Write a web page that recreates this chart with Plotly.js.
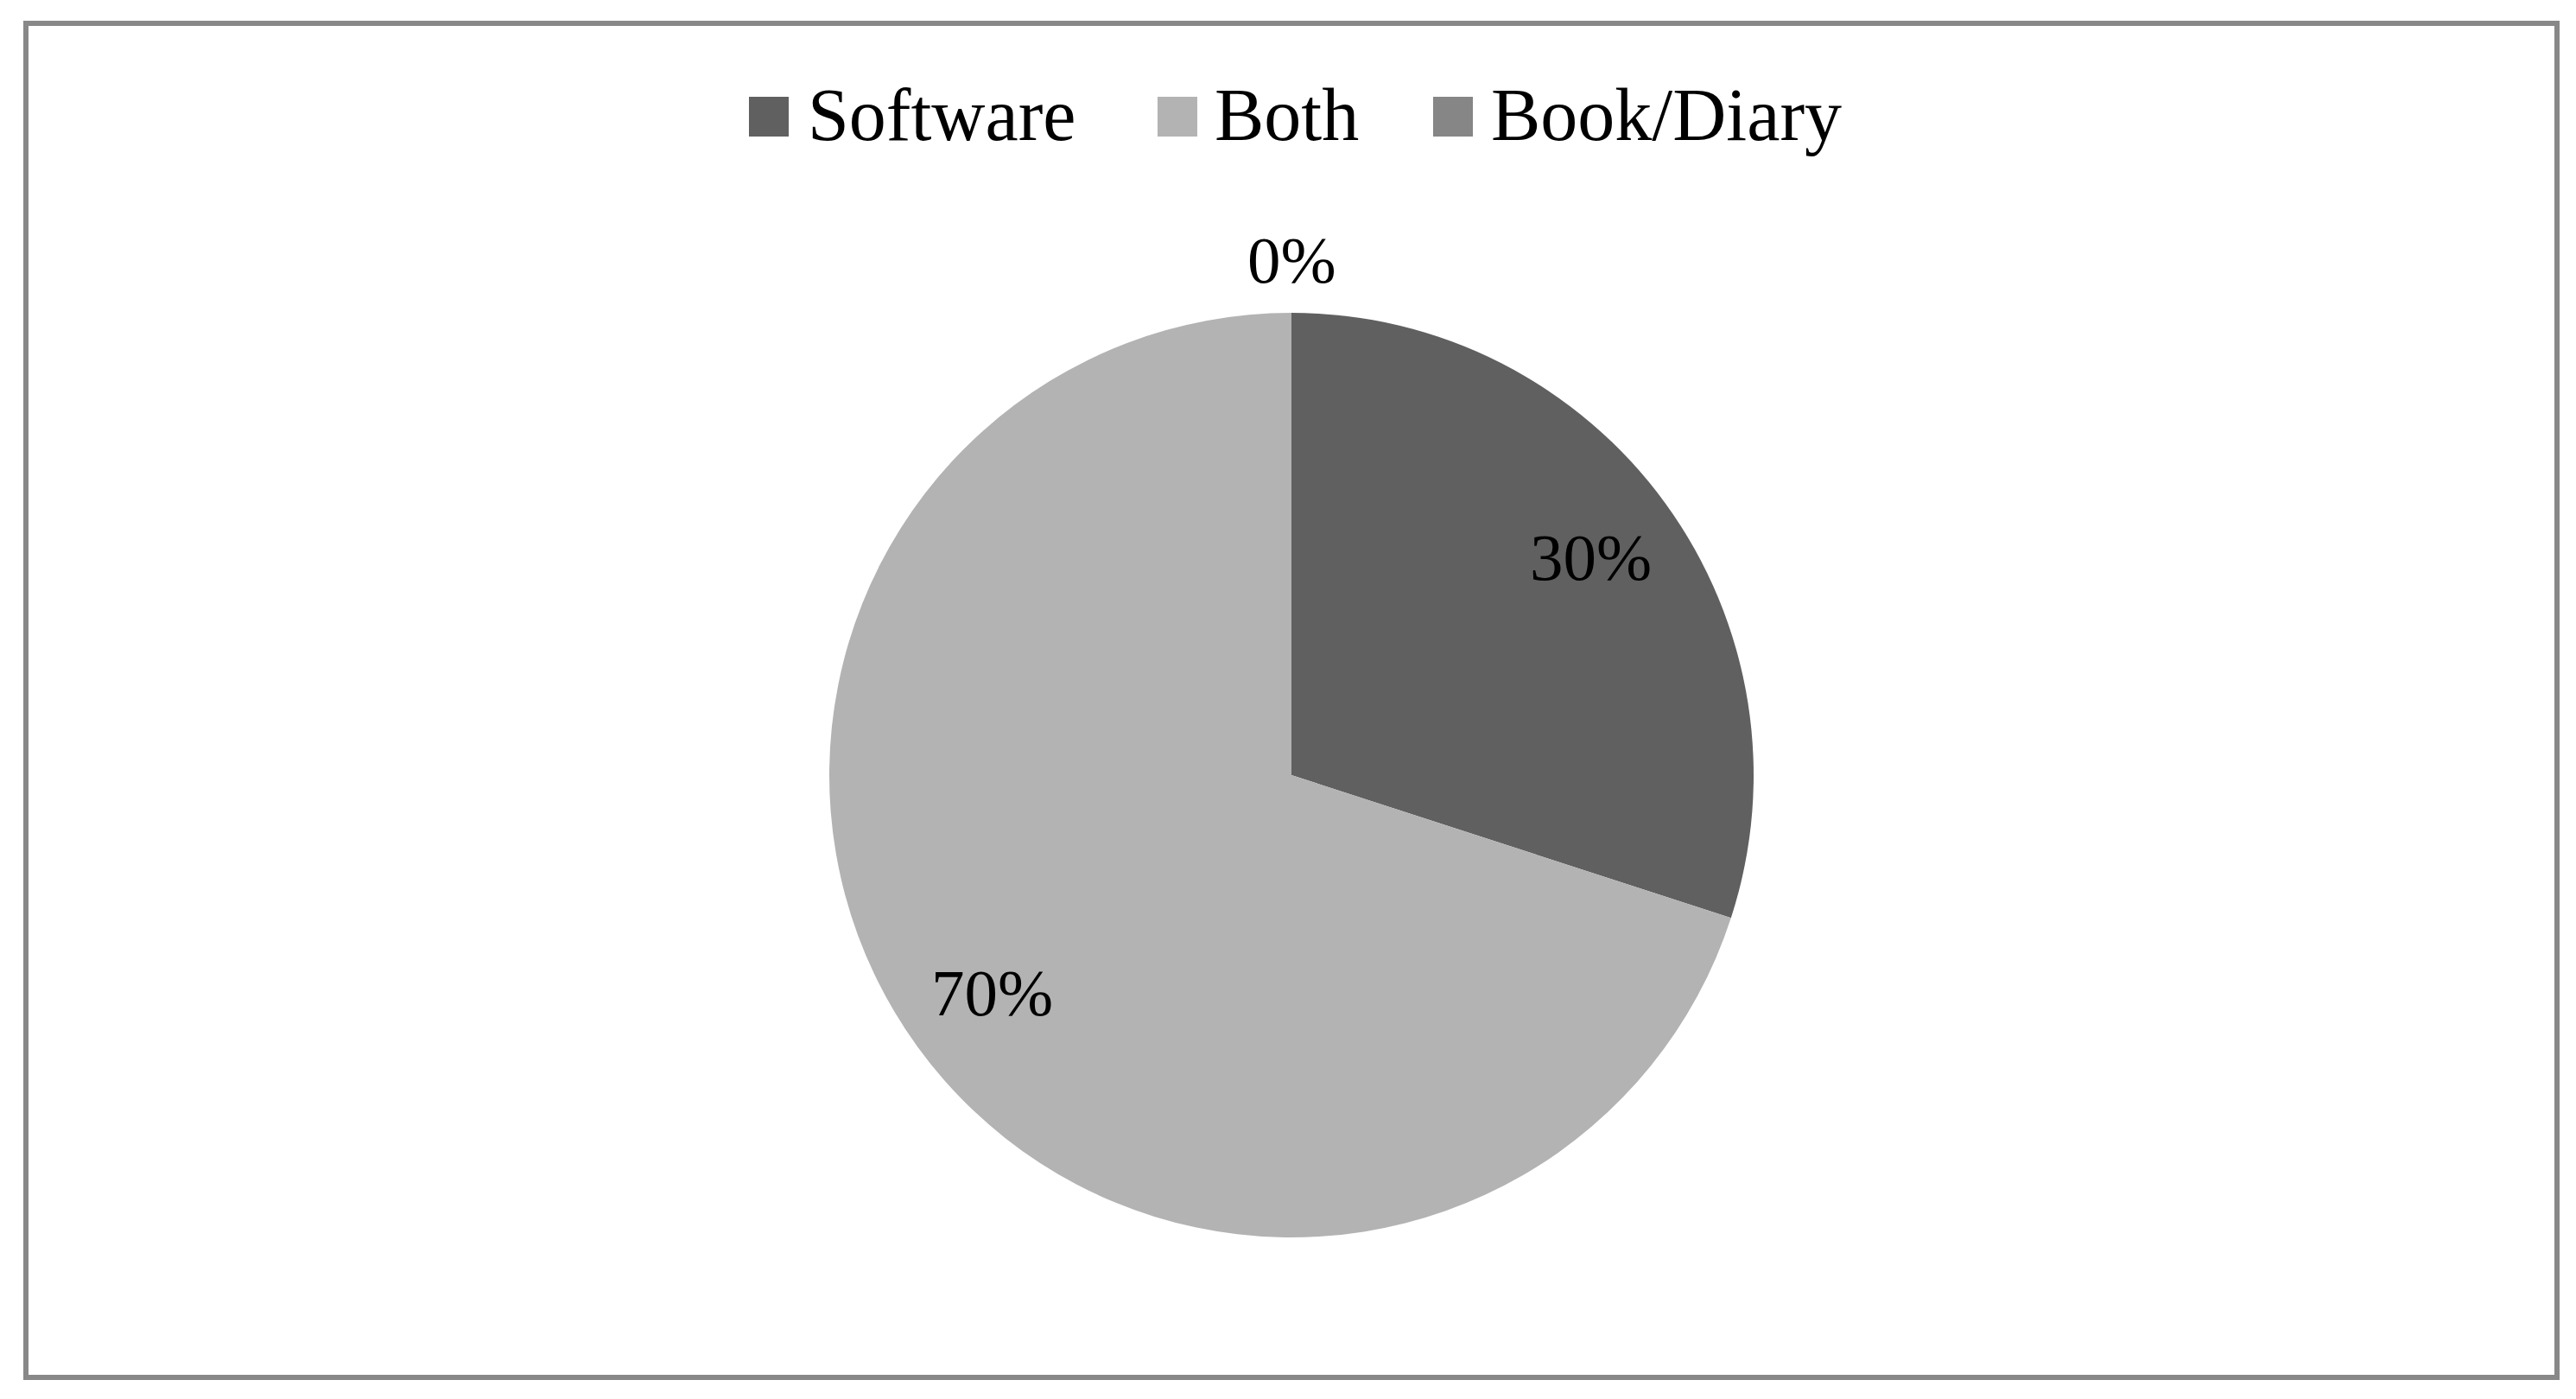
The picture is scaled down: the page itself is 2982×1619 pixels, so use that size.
<!DOCTYPE html>
<html>
<head>
<meta charset="utf-8">
<script src="https://cdn.plot.ly/plotly-3.0.1.min.js"></script>
<style>
  body { margin: 0; background: #fff; }
  #chart { width: 2982px; height: 1619px; }
</style>
</head>
<body>
<div id="chart"></div>
<script>
var categories = ['Software', 'Both', 'Book/Diary'];
var shares = [30, 70, 0];
var sliceColors = ['#606060', '#b3b3b3', '#868686'];

var W = 2982, H = 1619;
var FONT = 'Liberation Serif, Times New Roman, serif';

// pie placement (px): center and radius
var CX = 1495, CY = 897, R = 535;

// legend placement (px)
var legendBoxX = [867, 1340, 1659];
var legendTextX = [933, 1404, 1724];
var legendMidY = 135, legendBox = 46;

var CHART = document.getElementById('chart');

var data = [{
    type: 'pie',
    labels: categories,
    values: shares,
    sort: false,
    direction: 'clockwise',
    rotation: 0,
    marker: {colors: sliceColors, line: {width: 0}},
    textinfo: 'none',
    domain: {x: [(CX - R) / W, (CX + R) / W], y: [1 - (CY + R) / H, 1 - (CY - R) / H]},
    hoverinfo: 'label+percent',
    showlegend: false
}];

// percent labels, placed along each slice's bisector
var total = shares.reduce(function (a, b) { return a + b; }, 0);
var annotations = [];
var cum = 0;
shares.forEach(function (v) {
    var ang = 2 * Math.PI * (cum + v / 2) / total;
    cum += v;
    var r = v > 0 ? 0.8 * R : 1.114 * R;
    var px = CX + r * Math.sin(ang);
    var py = CY - r * Math.cos(ang);
    annotations.push({
        xref: 'paper', yref: 'paper',
        x: px / W, y: 1 - py / H,
        xanchor: 'center', yanchor: 'middle',
        text: Math.round(100 * v / total) + '%',
        showarrow: false,
        font: {family: FONT, size: 77, color: '#000'}
    });
});

// legend: coloured squares and names across the top
var shapes = [{
    type: 'rect', xref: 'paper', yref: 'paper',
    x0: 30 / W, x1: 2960 / W,
    y0: 1 - 1594 / H, y1: 1 - 27 / H,
    line: {color: '#888888', width: 6}
}];
categories.forEach(function (name, i) {
    shapes.push({
        type: 'rect', xref: 'paper', yref: 'paper',
        x0: legendBoxX[i] / W, x1: (legendBoxX[i] + legendBox) / W,
        y0: 1 - (legendMidY + legendBox / 2) / H, y1: 1 - (legendMidY - legendBox / 2) / H,
        fillcolor: sliceColors[i], line: {width: 0}
    });
    annotations.push({
        xref: 'paper', yref: 'paper',
        x: legendTextX[i] / W, y: 1 - (legendMidY - 2) / H,
        xanchor: 'left', yanchor: 'middle',
        text: name, showarrow: false,
        font: {family: FONT, size: 86, color: '#000'}
    });
});

var layout = {
    width: W,
    height: H,
    margin: {l: 0, r: 0, t: 0, b: 0},
    paper_bgcolor: '#fff',
    font: {family: FONT, color: '#000'},
    showlegend: false,
    shapes: shapes,
    annotations: annotations
};

Plotly.newPlot(CHART, data, layout, {displayModeBar: false});
</script>
</body>
</html>
